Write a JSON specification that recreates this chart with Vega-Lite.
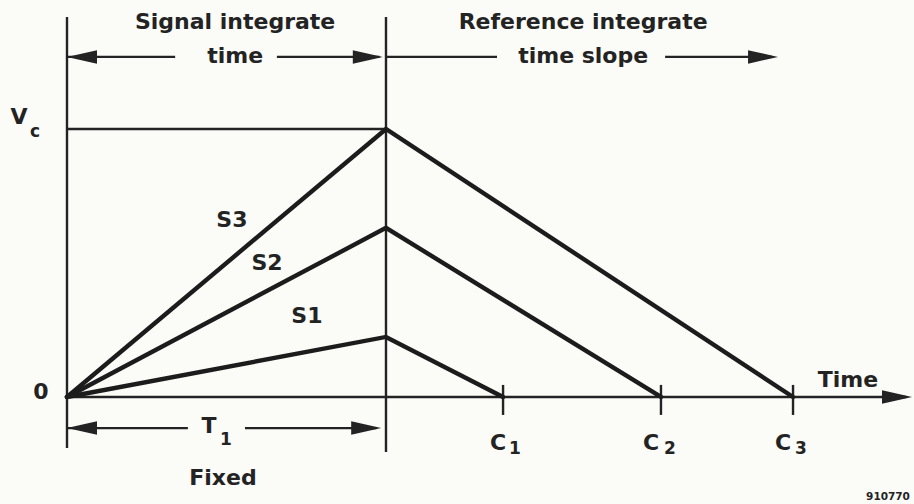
{
  "$schema": "https://vega.github.io/schema/vega-lite/v6.json",
  "width": 914,
  "height": 504,
  "autosize": "none",
  "padding": 0,
  "background": "#fbfbf8",
  "config": {"view": {"stroke": null}},
  "datasets": {
    "curves": [
      {"series": "S3", "t": 0, "v": 0},
      {"series": "S3", "t": 10, "v": 1.0},
      {"series": "S3", "t": 22.76, "v": 0},
      {"series": "S2", "t": 0, "v": 0},
      {"series": "S2", "t": 10, "v": 0.631},
      {"series": "S2", "t": 18.62, "v": 0},
      {"series": "S1", "t": 0, "v": 0},
      {"series": "S1", "t": 10, "v": 0.224},
      {"series": "S1", "t": 13.67, "v": 0}
    ],
    "guides": [
      {"name": "voltage axis", "t": 0, "t2": 0, "v": -0.19, "v2": 1.418},
      {"name": "T1 line", "t": 10, "t2": 10, "v": -0.205, "v2": 1.418},
      {"name": "Vc line", "t": 0, "t2": 10, "v": 1.0, "v2": 1.0},
      {"name": "time axis", "t": 0, "t2": 26.3, "v": 0, "v2": 0},
      {"name": "signal arrow L", "t": 0, "t2": 3.39, "v": 1.269, "v2": 1.269},
      {"name": "signal arrow R", "t": 6.58, "t2": 9.8, "v": 1.269, "v2": 1.269},
      {"name": "reference arrow L", "t": 10, "t2": 13.48, "v": 1.269, "v2": 1.269},
      {"name": "reference arrow R", "t": 18.75, "t2": 22.1, "v": 1.269, "v2": 1.269},
      {"name": "T1 arrow L", "t": 0, "t2": 3.79, "v": -0.116, "v2": -0.116},
      {"name": "T1 arrow R", "t": 5.58, "t2": 9.7, "v": -0.116, "v2": -0.116},
      {"name": "C1 tick", "t": 13.67, "t2": 13.67, "v": 0.045, "v2": -0.067},
      {"name": "C2 tick", "t": 18.62, "t2": 18.62, "v": 0.045, "v2": -0.067},
      {"name": "C3 tick", "t": 22.76, "t2": 22.76, "v": 0.045, "v2": -0.067}
    ],
    "heads": [
      {"dir": "left", "t": 0, "v": 1.269},
      {"dir": "right", "t": 9.9, "v": 1.269},
      {"dir": "right", "t": 22.29, "v": 1.269},
      {"dir": "left", "t": 0, "v": -0.116},
      {"dir": "right", "t": 9.85, "v": -0.116},
      {"dir": "right", "t": 26.49, "v": 0}
    ],
    "labels": [
      {"label": "Signal integrate", "role": "main", "t": 5.27, "v": 1.399},
      {"label": "time", "role": "main", "t": 5.27, "v": 1.272},
      {"label": "Reference integrate", "role": "main", "t": 16.18, "v": 1.399},
      {"label": "time slope", "role": "main", "t": 16.18, "v": 1.272},
      {"label": "V", "role": "main", "t": -1.5, "v": 1.045},
      {"label": "c", "role": "sub", "t": -1.0, "v": 0.989},
      {"label": "0", "role": "main", "t": -0.815, "v": 0.019},
      {"label": "S3", "role": "main", "t": 5.17, "v": 0.66},
      {"label": "S2", "role": "main", "t": 6.27, "v": 0.5},
      {"label": "S1", "role": "main", "t": 7.52, "v": 0.302},
      {"label": "T", "role": "main", "t": 4.45, "v": -0.108},
      {"label": "1", "role": "sub", "t": 4.98, "v": -0.16},
      {"label": "Fixed", "role": "main", "t": 4.89, "v": -0.302},
      {"label": "C", "role": "main", "t": 13.51, "v": -0.172},
      {"label": "1", "role": "sub", "t": 14.04, "v": -0.194},
      {"label": "C", "role": "main", "t": 18.31, "v": -0.172},
      {"label": "2", "role": "sub", "t": 18.9, "v": -0.194},
      {"label": "C", "role": "main", "t": 22.45, "v": -0.172},
      {"label": "3", "role": "sub", "t": 23.01, "v": -0.194},
      {"label": "Time", "role": "main", "t": 24.48, "v": 0.063}
    ],
    "figno": [
      {"label": "910770", "t": 25.05, "v": -0.373}
    ]
  },
  "encoding": {
    "x": {"field": "t", "type": "quantitative", "axis": null, "scale": {"domain": [-2.1, 26.552], "nice": false, "zero": false}},
    "y": {"field": "v", "type": "quantitative", "axis": null, "scale": {"domain": [-0.3993, 1.4813], "nice": false, "zero": false}}
  },
  "layer": [
    {
      "data": {"name": "guides"},
      "mark": {"type": "rule", "color": "#232323", "strokeWidth": 2.4},
      "encoding": {
        "x2": {"field": "t2"},
        "y2": {"field": "v2"}
      }
    },
    {
      "data": {"name": "curves"},
      "mark": {"type": "line", "color": "#1c1c1c", "strokeWidth": 4.4, "strokeJoin": "miter", "strokeCap": "round"},
      "encoding": {
        "detail": {"field": "series"},
        "order": {"field": "t", "type": "quantitative"}
      }
    },
    {
      "data": {"name": "heads"},
      "mark": {"type": "point", "filled": true, "color": "#232323", "opacity": 1, "size": 900, "strokeWidth": 0},
      "encoding": {
        "shape": {"field": "dir", "type": "nominal", "legend": null, "scale": {"domain": ["left", "right"], "range": ["M0,0L2,-0.45L2,0.45Z", "M0,0L-2,-0.45L-2,0.45Z"]}}
      }
    },
    {
      "data": {"name": "labels"},
      "mark": {"type": "text", "font": "DejaVu Sans", "fontWeight": "bold", "color": "#232323", "align": "center", "baseline": "middle"},
      "encoding": {
        "text": {"field": "label"},
        "size": {"field": "role", "type": "nominal", "legend": null, "scale": {"domain": ["main", "sub"], "range": [22, 17]}}
      }
    },
    {
      "data": {"name": "figno"},
      "mark": {"type": "text", "font": "DejaVu Sans", "fontWeight": "bold", "fontSize": 10.5, "color": "#232323", "align": "left", "baseline": "middle"},
      "encoding": {
        "text": {"field": "label"}
      }
    }
  ]
}
